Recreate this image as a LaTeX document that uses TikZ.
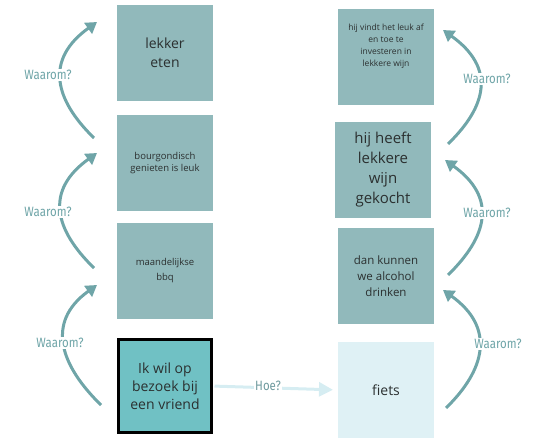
\documentclass[tikz,border=0pt]{standalone}
\usepackage{fontspec}
\setmainfont{Open Sans}
\newfontfamily\handfont[FakeStretch=0.85]{Fira Sans}
\usetikzlibrary{arrows.meta}
\definecolor{boxgray}{HTML}{91B9BB}
\definecolor{maincol}{HTML}{70C1C4}
\definecolor{fietscol}{HTML}{DFF1F5}
\definecolor{arrowcol}{HTML}{6FA5A8}
\definecolor{hoecol}{HTML}{D6EDF2}
\definecolor{hoetext}{HTML}{6E9A9E}
\definecolor{textdark}{HTML}{2B3030}
\tikzset{
  box/.style={minimum width=96pt, minimum height=96pt, inner sep=0pt, outer sep=0pt,
    align=center, text=textdark, fill=boxgray},
  why/.style={draw=arrowcol, line width=3pt,
    -{Triangle[length=11pt,width=13pt]}},
  lbl/.style={font=\handfont\fontsize{13.5}{13.5}\selectfont, text=arrowcol, fill=white, inner sep=1pt},
  hoe/.style={draw=hoecol, line width=3pt, -{Triangle[length=14pt,width=14pt,fill=hoecol]}},
}
\begin{document}
\begin{tikzpicture}[x=1pt,y=-1pt]
\useasboundingbox (0,0) rectangle (540,438);
% left column
\node[box, font=\fontsize{14}{19}\selectfont] (lekker) at (165,53) {lekker\\eten};
\node[box, font=\fontsize{9.5}{12}\selectfont] (bourg) at (165,163) {bourgondisch\\genieten is leuk};
\node[box, font=\fontsize{9.5}{15}\selectfont] (bbq) at (165,271) {maandelijkse\\bbq};
\node[box, fill=maincol, draw=black, line width=3pt, minimum width=93pt, minimum height=93pt,
  font=\fontsize{14}{18}\selectfont] (start) at (165,386) {Ik wil op\\bezoek bij\\een vriend};
% right column
\node[box] (vindt) at (386,57) {};
\node[align=center, text=textdark, inner sep=0pt, font=\fontsize{8.5}{12}\selectfont] (vindttext) at (386,46)
  {hij vindt het leuk af\\en toe te\\investeren in\\lekkere wijn};
\node[box, font=\fontsize{15}{20}\selectfont] (heeft) at (383,170) {hij heeft\\lekkere\\wijn\\gekocht};
\node[box, font=\fontsize{11.5}{16}\selectfont] (kunnen) at (386,276) {dan kunnen\\we alcohol\\drinken};
\node[box, fill=fietscol, font=\fontsize{14}{18}\selectfont] (fiets) at (386,390) {fiets};
% left arcs
\coordinate (a1s) at (94,138); \coordinate (a1e) at (97,22);
\coordinate (a2s) at (94,268); \coordinate (a2e) at (97,153);
\coordinate (a3s) at (101,405); \coordinate (a3e) at (97,285);
\draw[why] (a1s) .. controls +(-39,-38) and +(-53,38) .. (a1e);
\draw[why] (a2s) .. controls +(-39,-38) and +(-53,38) .. (a2e);
\draw[why] (a3s) .. controls +(-39,-38) and +(-53,38) .. (a3e);
% right arcs
\coordinate (b1s) at (448,144); \coordinate (b1e) at (443,30);
\coordinate (b2s) at (448,275); \coordinate (b2e) at (445,160);
\coordinate (b3s) at (446,408); \coordinate (b3e) at (443,290);
\draw[why] (b1s) .. controls +(39,-38) and +(53,38) .. (b1e);
\draw[why] (b2s) .. controls +(39,-38) and +(53,38) .. (b2e);
\draw[why] (b3s) .. controls +(39,-38) and +(53,38) .. (b3e);
% labels
\node[lbl] (w1) at (48,75) {Waarom?};
\node[lbl] (w2) at (48,212) {Waarom?};
\node[lbl] (w3) at (60,343) {Waarom?};
\node[lbl] (w4) at (487,79) {Waarom?};
\node[lbl] (w5) at (487,213) {Waarom?};
\node[lbl] (w6) at (498,344) {Waarom?};
% how
\draw[hoe, shorten <=3pt, shorten >=5pt] (start.east) -- (fiets.west);
\node[lbl, text=hoetext] (hoe) at (268,386) {Hoe?};
\end{tikzpicture}
\end{document}
